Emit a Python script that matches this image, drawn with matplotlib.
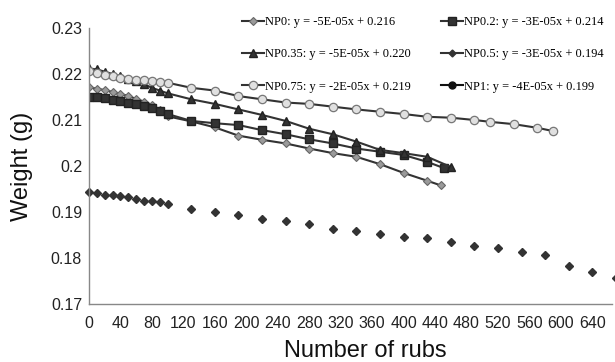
import matplotlib
matplotlib.use("Agg")
import matplotlib.pyplot as plt
from matplotlib.lines import Line2D

# ---- data ----
x_early = [0, 10, 20, 30, 40, 50, 60, 70, 80, 90, 100]

np0_x = x_early + [130, 160, 190, 220, 250, 280, 310, 340, 370, 400, 430, 447]
np0_y = [0.2171, 0.2168, 0.2165, 0.2161, 0.2157, 0.2152, 0.2146, 0.2140, 0.2133, 0.2122, 0.2108,
         0.2097, 0.2084, 0.2066, 0.2057, 0.2049, 0.2038, 0.2028, 0.2020, 0.2004, 0.1985, 0.1968, 0.1958]

np02_x = x_early + [130, 160, 190, 220, 250, 280, 310, 340, 370, 400, 430, 452]
np02_y = [0.2151, 0.2149, 0.2147, 0.2144, 0.2141, 0.2137, 0.2134, 0.2130, 0.2126, 0.2120, 0.2113,
          0.2098, 0.2093, 0.2089, 0.2078, 0.2069, 0.2058, 0.2049, 0.2038, 0.2031, 0.2024, 0.2009, 0.1995]

np035_x = x_early + [130, 160, 190, 220, 250, 280, 310, 340, 370, 400, 430, 460]
np035_y = [0.2212, 0.2210, 0.2205, 0.2200, 0.2195, 0.2190, 0.2185, 0.2178, 0.2170, 0.2164, 0.2158,
           0.2145, 0.2135, 0.2123, 0.2111, 0.2098, 0.2081, 0.2069, 0.2053, 0.2035, 0.2028, 0.2020, 0.1998]

np05_x = x_early + [130, 160, 190, 220, 250, 280, 310, 340, 370, 400, 430, 460, 490, 520, 550, 580, 610, 640, 670]
np05_y = [0.1943, 0.1941, 0.1938, 0.1936, 0.1934, 0.1932, 0.1928, 0.1925, 0.1924, 0.1922, 0.1918,
          0.1906, 0.1899, 0.1894, 0.1885, 0.1881, 0.1874, 0.1862, 0.1859, 0.1852, 0.1846, 0.1843,
          0.1835, 0.1827, 0.1821, 0.1814, 0.1807, 0.1782, 0.1769, 0.1757]

np075_x = x_early + [130, 160, 190, 220, 250, 280, 310, 340, 370, 400, 430, 460, 490, 510, 540, 570, 590]
np075_y = [0.2206, 0.2202, 0.2198, 0.2195, 0.2192, 0.2190, 0.2188, 0.2187, 0.2185, 0.2183, 0.2181,
           0.2170, 0.2164, 0.2152, 0.2145, 0.2138, 0.2135, 0.2129, 0.2123, 0.2118, 0.2113, 0.2107,
           0.2105, 0.2100, 0.2096, 0.2091, 0.2083, 0.2076]

legend_labels = ["NP0: y = -5E-05x + 0.216", "NP0.2: y = -3E-05x + 0.214",
                 "NP0.35: y = -5E-05x + 0.220", "NP0.5: y = -3E-05x + 0.194",
                 "NP0.75: y = -2E-05x + 0.219", "NP1: y = -4E-05x + 0.199"]

xticks = list(range(0, 641, 40))
yticks = [0.17, 0.18, 0.19, 0.20, 0.21, 0.22, 0.23]
ytick_labels = ["0.17", "0.18", "0.19", "0.2", "0.21", "0.22", "0.23"]

# ---- plot ----
plt.rcParams['font.family'] = ['Liberation Sans', 'DejaVu Sans']
fig = plt.figure(figsize=(6.15, 3.62), dpi=100)
ax = fig.add_axes([89/615, 1-304/362, (612-89)/615, (304-28)/362])

lc = '#333333'
lw = 1.5
h0, = ax.plot(np0_x, np0_y, color=lc, lw=lw, marker='D', ms=4.2, mfc='#9a9a9a', mec='#666666', mew=0.8)
h1, = ax.plot(np02_x, np02_y, color=lc, lw=lw, marker='s', ms=5.2, mfc='#333333', mec='#222222')
h2, = ax.plot(np035_x, np035_y, color=lc, lw=lw, marker='^', ms=5.5, mfc='#333333', mec='#222222')
ax.plot(np05_x, np05_y, ls='none', marker='D', ms=4.2, mfc='#333333', mec='#333333', clip_on=False)
h4, = ax.plot(np075_x, np075_y, color=lc, lw=lw, marker='o', ms=6, mfc='#e0e0e0', mec='#777777', mew=0.9)

h3 = Line2D([], [], color=lc, lw=lw, marker='D', ms=3.5, mfc='#333333', mec='#333333')
h5 = Line2D([], [], color='#111111', lw=lw, marker='o', ms=5, mfc='#111111', mec='#111111')

ax.set_xlim(0, 665)
ax.set_ylim(0.17, 0.23)
ax.set_xticks(xticks)
ax.set_xticklabels([str(t) for t in xticks])
ax.set_yticks(yticks)
ax.set_yticklabels(ytick_labels)
ax.tick_params(axis='both', length=0, labelsize=11.5, colors='#222222')
ax.tick_params(axis='x', pad=9)
ax.tick_params(axis='y', pad=5)
for s in ['top', 'right']:
    ax.spines[s].set_visible(False)
for s in ['left', 'bottom']:
    ax.spines[s].set_color('#888888')
    ax.spines[s].set_linewidth(1.0)

fig.text(22/615, 0.5 * ((1-304/362) + (1-28/362)), "Weight (g)", rotation=90,
         ha='center', va='center', fontsize=17, color='#111111')
fig.text(365/615, 5/362, "Number of rubs", ha='center', va='baseline', fontsize=17, color='#111111')

# two legend columns placed separately
leg_kw = dict(frameon=False, loc='upper left',
              prop={'family': 'Liberation Serif', 'size': 8.9},
              handlelength=1.8, handletextpad=0.05,
              labelspacing=1.65, borderpad=0, borderaxespad=0)
leg1 = fig.legend([h0, h2, h4], [legend_labels[i] for i in (0, 2, 4)],
                  bbox_to_anchor=(242/615, 1-16/362), **leg_kw)
leg2 = fig.legend([h1, h3, h5], [legend_labels[i] for i in (1, 3, 5)],
                  bbox_to_anchor=(441/615, 1-16/362), **leg_kw)

fig.savefig("out.png", dpi=100)
